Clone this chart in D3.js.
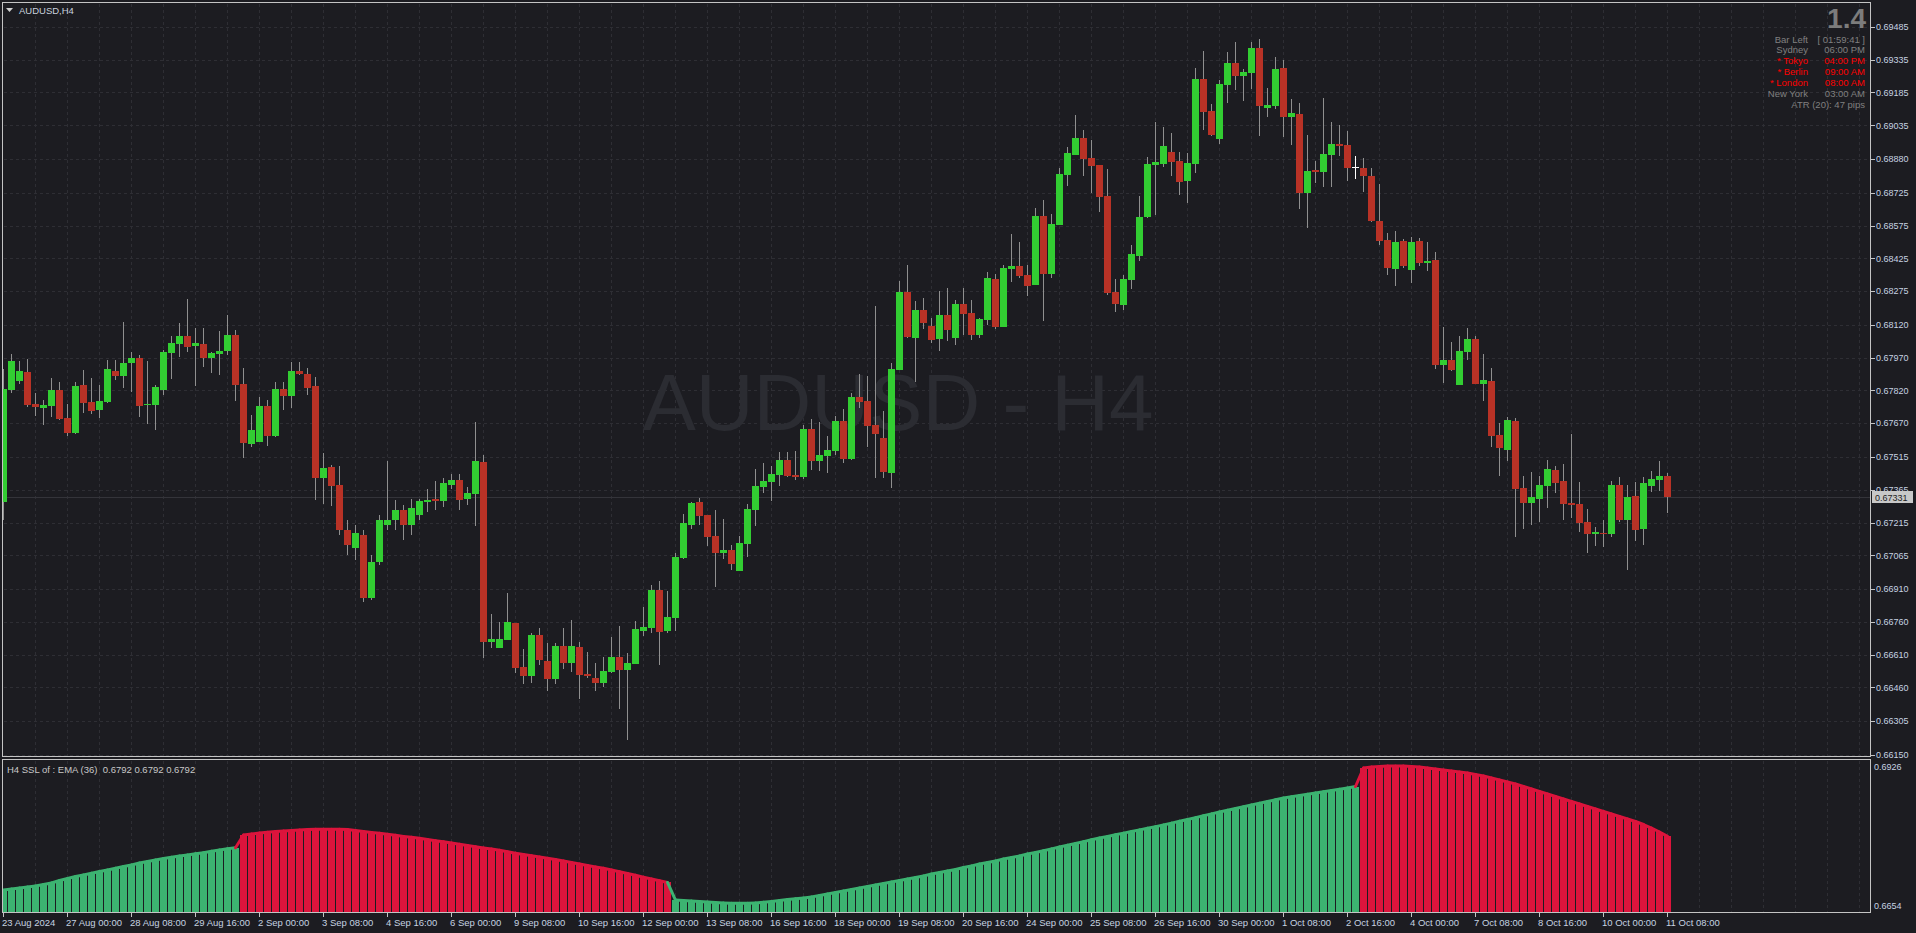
<!DOCTYPE html>
<html><head><meta charset="utf-8">
<script src="https://cdn.jsdelivr.net/npm/d3@7"></script>
<style>html,body{margin:0;padding:0;background:#1c1c21;overflow:hidden}</style>
</head><body><svg id="c" width="1916" height="933"></svg>
<script>
const openP=[0.67309,0.67822,0.67864,0.67905,0.67758,0.67740,0.67749,0.67822,0.67694,0.67626,
0.67845,0.67767,0.67731,0.67767,0.67909,0.67886,0.67946,0.67969,0.67754,0.67754,
0.67822,0.67992,0.68033,0.68070,0.68024,0.68033,0.67969,0.67987,0.68001,0.68074,
0.67850,0.67575,0.67584,0.67749,0.67612,0.67827,0.67795,0.67909,0.67896,0.67841,
0.67419,0.67470,0.67387,0.67181,0.67099,0.67158,0.66870,0.67034,0.67204,0.67227,
0.67273,0.67204,0.67250,0.67309,0.67323,0.67314,0.67387,0.67410,0.67323,0.67346,
0.67493,0.66668,0.66641,0.66677,0.66755,0.66553,0.66512,0.66700,0.66581,0.66499,
0.66650,0.66572,0.66645,0.66521,0.66503,0.66480,0.66531,0.66599,0.66540,0.66567,
0.66718,0.66732,0.66906,0.66718,0.66778,0.67053,0.67204,0.67309,0.67250,0.67154,
0.67076,0.67090,0.66993,0.67117,0.67273,0.67378,0.67401,0.67433,0.67502,0.67433,
0.67424,0.67644,0.67497,0.67520,0.67543,0.67680,0.67506,0.67790,0.67772,0.67662,
0.67603,0.67442,0.67914,0.68271,0.68061,0.68189,0.68116,0.68056,0.68166,0.68061,
0.68216,0.68175,0.68074,0.68143,0.68331,0.68111,0.68377,0.68390,0.68349,0.68303,
0.68620,0.68354,0.68578,0.68807,0.68899,0.68977,0.68885,0.68853,0.68711,0.68271,
0.68212,0.68326,0.68436,0.68615,0.68853,0.68858,0.68913,0.68871,0.68780,0.68858,
0.69247,0.69101,0.68972,0.69220,0.69320,0.69261,0.69275,0.69389,0.69114,0.69123,
0.69298,0.69073,0.69087,0.68725,0.68830,0.68821,0.68899,0.68949,0.68945,0.68844,
0.68839,0.68803,0.68597,0.68510,0.68377,0.68505,0.68372,0.68505,0.68404,0.68418,
0.67937,0.67960,0.67845,0.67997,0.68056,0.67850,0.67864,0.67616,0.67548,0.67680,
0.67374,0.67305,0.67323,0.67383,0.67456,0.67406,0.67305,0.67300,0.67218,0.67163,
0.67167,0.67163,0.67387,0.67227,0.67337,0.67186,0.67383,0.67410,0.67428];
const highP=[0.67919,0.67987,0.67955,0.67965,0.67809,0.67777,0.67877,0.67859,0.67758,0.67859,
0.67914,0.67877,0.67845,0.67960,0.67960,0.68134,0.67997,0.67983,0.67955,0.67845,
0.68006,0.68070,0.68129,0.68239,0.68106,0.68106,0.67997,0.68093,0.68166,0.68097,
0.67923,0.67708,0.67790,0.67777,0.67859,0.67859,0.67951,0.67951,0.67923,0.67882,
0.67534,0.67479,0.67474,0.67227,0.67204,0.67181,0.67067,0.67250,0.67497,0.67318,
0.67296,0.67323,0.67323,0.67369,0.67406,0.67419,0.67438,0.67438,0.67378,0.67676,
0.67525,0.66796,0.66760,0.66893,0.66755,0.66636,0.66709,0.66732,0.66663,0.66664,
0.66732,0.66769,0.66668,0.66622,0.66572,0.66599,0.66691,0.66741,0.66618,0.66764,
0.66828,0.66929,0.66947,0.66902,0.67076,0.67254,0.67309,0.67328,0.67250,0.67273,
0.67232,0.67112,0.67154,0.67300,0.67461,0.67488,0.67474,0.67538,0.67538,0.67543,
0.67662,0.67690,0.67676,0.67612,0.67703,0.67735,0.67809,0.67896,0.67887,0.68207,
0.67726,0.67946,0.68322,0.68395,0.68230,0.68244,0.68152,0.68276,0.68290,0.68235,
0.68290,0.68235,0.68152,0.68363,0.68354,0.68395,0.68537,0.68500,0.68395,0.68656,
0.68693,0.68629,0.68839,0.68936,0.69082,0.69014,0.68968,0.68853,0.68835,0.68331,
0.68349,0.68487,0.68711,0.68890,0.69050,0.69027,0.69000,0.68913,0.68908,0.69298,
0.69375,0.69133,0.69243,0.69371,0.69417,0.69293,0.69417,0.69430,0.69206,0.69348,
0.69334,0.69156,0.69137,0.68991,0.68871,0.69160,0.69050,0.69036,0.69009,0.68894,
0.68885,0.68839,0.68766,0.68542,0.68551,0.68514,0.68523,0.68519,0.68500,0.68455,
0.68111,0.68042,0.68070,0.68106,0.68070,0.67987,0.67923,0.67671,0.67699,0.67694,
0.67428,0.67447,0.67428,0.67502,0.67474,0.67483,0.67621,0.67401,0.67277,0.67195,
0.67227,0.67406,0.67424,0.67387,0.67401,0.67424,0.67451,0.67497,0.67442];
const lowP=[0.67227,0.67809,0.67850,0.67745,0.67703,0.67662,0.67699,0.67685,0.67612,0.67621,
0.67717,0.67713,0.67694,0.67763,0.67868,0.67831,0.67813,0.67699,0.67667,0.67639,
0.67800,0.67873,0.67974,0.67997,0.67841,0.67928,0.67900,0.67891,0.67983,0.67772,
0.67511,0.67561,0.67584,0.67566,0.67607,0.67731,0.67740,0.67891,0.67800,0.67318,
0.67300,0.67291,0.67158,0.67067,0.67044,0.66851,0.66860,0.67021,0.67181,0.67181,
0.67135,0.67158,0.67227,0.67264,0.67273,0.67286,0.67369,0.67273,0.67296,0.67200,
0.66595,0.66641,0.66641,0.66677,0.66526,0.66476,0.66480,0.66563,0.66444,0.66475,
0.66544,0.66531,0.66407,0.66503,0.66444,0.66462,0.66526,0.66361,0.66219,0.66567,
0.66695,0.66709,0.66563,0.66709,0.66718,0.67048,0.67186,0.67204,0.67108,0.66920,
0.67048,0.66998,0.66993,0.67057,0.67199,0.67351,0.67314,0.67383,0.67424,0.67410,
0.67415,0.67456,0.67451,0.67442,0.67525,0.67488,0.67502,0.67740,0.67561,0.67419,
0.67419,0.67374,0.67914,0.68061,0.67859,0.68102,0.68038,0.68001,0.68047,0.68028,
0.68074,0.68052,0.68061,0.68120,0.68102,0.68111,0.68317,0.68336,0.68253,0.68303,
0.68138,0.68336,0.68578,0.68757,0.68899,0.68803,0.68725,0.68638,0.68258,0.68180,
0.68189,0.68285,0.68413,0.68610,0.68624,0.68844,0.68803,0.68716,0.68679,0.68817,
0.69014,0.68986,0.68949,0.69137,0.69197,0.69146,0.69201,0.68986,0.69073,0.69110,
0.68982,0.68945,0.68652,0.68564,0.68771,0.68752,0.68752,0.68894,0.68780,0.68789,
0.68730,0.68592,0.68487,0.68349,0.68299,0.68381,0.68313,0.68390,0.68368,0.67919,
0.67855,0.67909,0.67845,0.67960,0.67850,0.67772,0.67561,0.67428,0.67497,0.67149,
0.67186,0.67204,0.67218,0.67282,0.67351,0.67227,0.67236,0.67172,0.67076,0.67108,
0.67103,0.67149,0.67218,0.66998,0.67131,0.67112,0.67355,0.67360,0.67259];
const closeP=[0.67827,0.67955,0.67909,0.67754,0.67745,0.67754,0.67822,0.67690,0.67626,0.67841,
0.67763,0.67726,0.67772,0.67919,0.67886,0.67946,0.67969,0.67749,0.67758,0.67836,
0.67997,0.68038,0.68070,0.68019,0.68038,0.67969,0.67992,0.68001,0.68074,0.67845,
0.67580,0.67639,0.67749,0.67612,0.67827,0.67795,0.67909,0.67896,0.67831,0.67419,
0.67465,0.67383,0.67181,0.67112,0.67167,0.66870,0.67034,0.67227,0.67227,0.67273,
0.67204,0.67282,0.67314,0.67318,0.67314,0.67396,0.67410,0.67318,0.67351,0.67497,
0.66668,0.66682,0.66682,0.66760,0.66549,0.66512,0.66700,0.66586,0.66499,0.66650,
0.66572,0.66650,0.66517,0.66512,0.66480,0.66535,0.66599,0.66540,0.66572,0.66728,
0.66737,0.66906,0.66714,0.66783,0.67057,0.67213,0.67305,0.67245,0.67149,0.67076,
0.67090,0.67025,0.67122,0.67277,0.67383,0.67406,0.67438,0.67502,0.67428,0.67424,
0.67644,0.67497,0.67525,0.67548,0.67680,0.67506,0.67790,0.67767,0.67657,0.67621,
0.67447,0.67919,0.68271,0.68065,0.68189,0.68129,0.68052,0.68166,0.68097,0.68216,
0.68171,0.68074,0.68148,0.68336,0.68111,0.68381,0.68391,0.68345,0.68299,0.68620,
0.68354,0.68583,0.68812,0.68908,0.68977,0.68881,0.68849,0.68707,0.68267,0.68216,
0.68331,0.68445,0.68615,0.68858,0.68867,0.68940,0.68867,0.68775,0.68862,0.69247,
0.69096,0.68991,0.69224,0.69320,0.69261,0.69279,0.69389,0.69123,0.69128,0.69293,
0.69073,0.69091,0.68725,0.68826,0.68821,0.68904,0.68949,0.68940,0.68839,0.68844,
0.68803,0.68597,0.68505,0.68381,0.68500,0.68390,0.68500,0.68404,0.68413,0.67937,
0.67960,0.67914,0.68001,0.68056,0.67850,0.67868,0.67612,0.67557,0.67685,0.67369,
0.67305,0.67332,0.67387,0.67461,0.67396,0.67300,0.67296,0.67213,0.67163,0.67172,
0.67163,0.67387,0.67227,0.67332,0.67181,0.67396,0.67415,0.67428,0.67331];
const sslValues=[0.66942,0.66960,0.66978,0.66996,0.67015,0.67042,0.67069,0.67115,0.67152,0.67188,
0.67215,0.67246,0.67279,0.67307,0.67338,0.67371,0.67398,0.67434,0.67462,0.67489,
0.67517,0.67539,0.67562,0.67581,0.67604,0.67623,0.67650,0.67672,0.67694,0.67714,
0.67946,0.67964,0.67982,0.67995,0.68010,0.68019,0.68028,0.68037,0.68046,0.68050,
0.68050,0.68050,0.68050,0.68046,0.68028,0.68010,0.67991,0.67977,0.67960,0.67942,
0.67918,0.67904,0.67887,0.67864,0.67840,0.67822,0.67800,0.67778,0.67754,0.67730,
0.67708,0.67690,0.67666,0.67639,0.67613,0.67590,0.67566,0.67544,0.67522,0.67498,
0.67471,0.67444,0.67416,0.67389,0.67361,0.67338,0.67307,0.67274,0.67243,0.67210,
0.67175,0.67142,0.67110,0.67079,0.66759,0.66750,0.66741,0.66732,0.66723,0.66713,
0.66704,0.66699,0.66699,0.66699,0.66704,0.66717,0.66732,0.66750,0.66768,0.66781,
0.66796,0.66814,0.66841,0.66869,0.66896,0.66923,0.66951,0.66978,0.67005,0.67033,
0.67060,0.67088,0.67115,0.67142,0.67170,0.67197,0.67234,0.67261,0.67288,0.67316,
0.67352,0.67380,0.67416,0.67444,0.67471,0.67508,0.67535,0.67562,0.67599,0.67626,
0.67659,0.67692,0.67725,0.67758,0.67792,0.67825,0.67858,0.67891,0.67920,0.67949,
0.67980,0.68010,0.68039,0.68068,0.68099,0.68128,0.68163,0.68196,0.68230,0.68263,
0.68298,0.68331,0.68366,0.68397,0.68429,0.68460,0.68493,0.68524,0.68557,0.68588,
0.68621,0.68643,0.68667,0.68689,0.68712,0.68734,0.68758,0.68780,0.68804,0.68831,
0.69169,0.69187,0.69196,0.69205,0.69205,0.69205,0.69196,0.69187,0.69169,0.69150,
0.69132,0.69114,0.69096,0.69077,0.69050,0.69023,0.68986,0.68950,0.68913,0.68877,
0.68831,0.68785,0.68740,0.68694,0.68648,0.68603,0.68557,0.68512,0.68466,0.68420,
0.68375,0.68329,0.68283,0.68238,0.68192,0.68137,0.68073,0.68000,0.67920];
const sslTrendRuns=[{from:0,dir:"up"},{from:30,dir:"down"},{from:84,dir:"up"},{from:170,dir:"down"}];
const priceTicks=[0.69485,0.69335,0.69185,0.69035,0.68880,0.68725,0.68575,0.68425,0.68275,0.68120,0.67970,0.67820,0.67670,0.67515,0.67365,0.67215,0.67065,0.66910,0.66760,0.66610,0.66460,0.66305,0.66150];
const timeLabels=["23 Aug 2024","27 Aug 00:00","28 Aug 08:00","29 Aug 16:00","2 Sep 00:00","3 Sep 08:00","4 Sep 16:00","6 Sep 00:00","9 Sep 08:00","10 Sep 16:00","12 Sep 00:00","13 Sep 08:00","16 Sep 16:00","18 Sep 00:00","19 Sep 08:00","20 Sep 16:00","24 Sep 00:00","25 Sep 08:00","26 Sep 16:00","30 Sep 00:00","1 Oct 08:00","2 Oct 16:00","4 Oct 00:00","7 Oct 08:00","8 Oct 16:00","10 Oct 00:00","11 Oct 08:00"];
const labelEvery=8;
const sslRange=[0.6654,0.6926];
const lastPrice=0.67331;
const infoRows=[["Bar Left","[ 01:59:41 ]","#808080"],["Sydney","06:00 PM","#808080"],["* Tokyo","04:00 PM","#ff0000"],["* Berlin","09:00 AM","#ff0000"],["* London","08:00 AM","#ff0000"],["New York","03:00 AM","#808080"]];

const BG="#1c1c21", GRID="#2e2e34", BORDER="#c4c4c4", AX="#c6d3e2";
const UP="#32cd32", DN="#b83226", WICK="#8f8f8f";
const SUP="#3cb371", SDN="#dc143c";
const FONT="'Liberation Sans', Arial, sans-serif";
const n=closeP.length;
const svg=d3.select("#c");
svg.append("rect").attr("width",1916).attr("height",933).attr("fill",BG);

const L=2.5,R=1870.5,T=2.5,B=756.5, IT=759.5, IB=912.5;
const x=d3.scaleLinear().domain([0,n-1]).range([3.5,3.5+8*(n-1)]);
const y=d3.scaleLinear().domain([0.66150,0.69485]).range([755,27]);
const yi=d3.scaleLinear().domain(sslRange).range([912,763]);

const defs=svg.append("defs");
defs.append("clipPath").attr("id","cm").append("rect").attr("x",3).attr("y",3).attr("width",R-3).attr("height",B-3);
defs.append("clipPath").attr("id","ci").append("rect").attr("x",3).attr("y",IT+0.5).attr("width",R-3).attr("height",IB-IT-0.5);

// grid
const g=svg.append("g").attr("shape-rendering","crispEdges");
const gridBars=d3.range(4,Math.floor((R-4)/8)+1,4);
g.selectAll(".vg").data(gridBars).join("line").attr("x1",d=>Math.floor(x(d))+0.5).attr("x2",d=>Math.floor(x(d))+0.5)
 .attr("y1",T+1).attr("y2",B-1).attr("stroke",GRID).attr("stroke-dasharray","3,3");
g.selectAll(".vgi").data(gridBars).join("line").attr("x1",d=>Math.floor(x(d))+0.5).attr("x2",d=>Math.floor(x(d))+0.5)
 .attr("y1",IT+1).attr("y2",IB-1).attr("stroke",GRID).attr("stroke-dasharray","3,3");
g.selectAll(".hg").data(priceTicks).join("line").attr("x1",L+1).attr("x2",R-1)
 .attr("y1",d=>Math.round(y(d))+0.5).attr("y2",d=>Math.round(y(d))+0.5).attr("stroke",GRID).attr("stroke-dasharray","3,3");

// watermark
svg.append("text").attr("x",898).attr("y",430).attr("text-anchor","middle").attr("font-family",FONT)
 .attr("font-size",80).attr("fill","#2b2c32").text("AUDUSD - H4");

// bid line
svg.append("line").attr("x1",L+1).attr("x2",R).attr("y1",Math.round(y(lastPrice))+0.5).attr("y2",Math.round(y(lastPrice))+0.5)
 .attr("stroke","#34343a").attr("shape-rendering","crispEdges");

// candles
const cg=svg.append("g").attr("clip-path","url(#cm)").attr("shape-rendering","crispEdges");
const idx=d3.range(n);
const col=i=>closeP[i]>openP[i]?UP:(closeP[i]<openP[i]?DN:"#ffffff");
cg.selectAll(".w").data(idx).join("rect").attr("x",i=>Math.floor(x(i))).attr("width",1)
 .attr("y",i=>Math.round(y(highP[i]))).attr("height",i=>Math.max(1,Math.round(y(lowP[i]))-Math.round(y(highP[i]))))
 .attr("fill",i=>closeP[i]===openP[i]?"#ffffff":WICK);
cg.selectAll(".b").data(idx).join("rect").attr("x",i=>Math.round(x(i)-3.5)).attr("width",7)
 .attr("y",i=>Math.round(y(Math.max(openP[i],closeP[i]))))
 .attr("height",i=>Math.max(1,Math.round(y(Math.min(openP[i],closeP[i])))-Math.round(y(Math.max(openP[i],closeP[i])))))
 .attr("fill",col);

// indicator
const dirOf=i=>{let d="up";for(const r of sslTrendRuns){if(i>=r.from)d=r.dir;}return d;};
const ig=svg.append("g").attr("clip-path","url(#ci)");
ig.selectAll(".h").data(idx).join("rect").attr("shape-rendering","crispEdges")
 .attr("x",i=>Math.round(x(i)-3.5)).attr("width",7)
 .attr("y",i=>Math.round(yi(sslValues[i]))).attr("height",i=>912-Math.round(yi(sslValues[i]))+1)
 .attr("fill",i=>dirOf(i)==="up"?SUP:SDN);
ig.selectAll(".sl").data(idx.slice(1)).join("line")
 .attr("x1",i=>x(i-1)).attr("x2",i=>x(i)).attr("y1",i=>yi(sslValues[i-1])).attr("y2",i=>yi(sslValues[i]))
 .attr("stroke",i=>dirOf(i)==="up"?SUP:SDN).attr("stroke-width",3).attr("stroke-linecap","round");

// borders
const bd=svg.append("g").attr("fill","none").attr("stroke",BORDER).attr("shape-rendering","crispEdges");
bd.append("path").attr("d",`M${R},${T}H${L}V${B}H${R}V${T}`);
bd.append("path").attr("d",`M${R},${IT}H${L}V${IB}H${R}V${IT}`);

// price axis
const pa=svg.append("g");
pa.selectAll("line").data(priceTicks).join("line").attr("shape-rendering","crispEdges")
 .attr("x1",R).attr("x2",R+4).attr("y1",d=>Math.round(y(d))+0.5).attr("y2",d=>Math.round(y(d))+0.5).attr("stroke",BORDER);
pa.selectAll("text").data(priceTicks).join("text").attr("x",1876).attr("y",d=>y(d)+3.3)
 .attr("font-family",FONT).attr("font-size",9).attr("fill",AX).text(d=>d.toFixed(5));
// last price box
const ly=Math.round(y(lastPrice));
svg.append("rect").attr("x",1872).attr("y",ly-6).attr("width",41).attr("height",12).attr("fill","#c8c8c8");
svg.append("text").attr("x",1875).attr("y",ly+3.5).attr("font-family",FONT).attr("font-size",9).attr("fill","#1e1e1e").text(lastPrice.toFixed(5));

// indicator axis labels
svg.append("text").attr("x",1874).attr("y",770).attr("font-family",FONT).attr("font-size",9).attr("fill",AX).text(sslRange[1].toFixed(4));
svg.append("text").attr("x",1874).attr("y",909).attr("font-family",FONT).attr("font-size",9).attr("fill",AX).text(sslRange[0].toFixed(4));

// time axis
const ta=svg.append("g");
ta.selectAll("line").data(timeLabels).join("line").attr("shape-rendering","crispEdges")
 .attr("x1",(d,k)=>Math.floor(x(k*labelEvery))+0.5).attr("x2",(d,k)=>Math.floor(x(k*labelEvery))+0.5)
 .attr("y1",IB).attr("y2",IB+4).attr("stroke",BORDER);
ta.selectAll("text").data(timeLabels).join("text").attr("x",(d,k)=>Math.max(2,x(k*labelEvery)-1.5)).attr("y",925.5)
 .attr("font-family",FONT).attr("font-size",9.5).attr("fill",AX).text(d=>d);

// titles
svg.append("path").attr("d","M6,8 L13,8 L9.5,12 Z").attr("fill","#d0d0d0");
svg.append("text").attr("x",19).attr("y",14).attr("font-family",FONT).attr("font-size",9.5).attr("fill","#c8d2de").text("AUDUSD,H4");
const lastSSL=sslValues[n-1].toFixed(4);
svg.append("text").attr("x",7).attr("y",772.5).attr("font-family",FONT).attr("font-size",9.5).attr("fill","#c8c8c8")
 .attr("xml:space","preserve").style("white-space","pre").text(`H4 SSL of : EMA (36)  ${lastSSL} ${lastSSL} ${lastSSL}`);

// info panel
svg.append("text").attr("x",1866).attr("y",28).attr("text-anchor","end").attr("font-family",FONT).attr("font-weight","bold")
 .attr("font-size",28).attr("fill","#7c7c7c").text("1.4");
infoRows.forEach((r,k)=>{
  const yy=42.5+k*10.9;
  svg.append("text").attr("x",1808).attr("y",yy).attr("text-anchor","end").attr("font-family",FONT).attr("font-size",9.5).attr("fill",r[2]).text(r[0]);
  svg.append("text").attr("x",1865).attr("y",yy).attr("text-anchor","end").attr("font-family",FONT).attr("font-size",9.5).attr("fill",r[2]).text(r[1]);
});
svg.append("text").attr("x",1865).attr("y",42.5+6*10.9).attr("text-anchor","end").attr("font-family",FONT).attr("font-size",9.5).attr("fill","#808080").text("ATR (20): 47 pips");
</script></body></html>
